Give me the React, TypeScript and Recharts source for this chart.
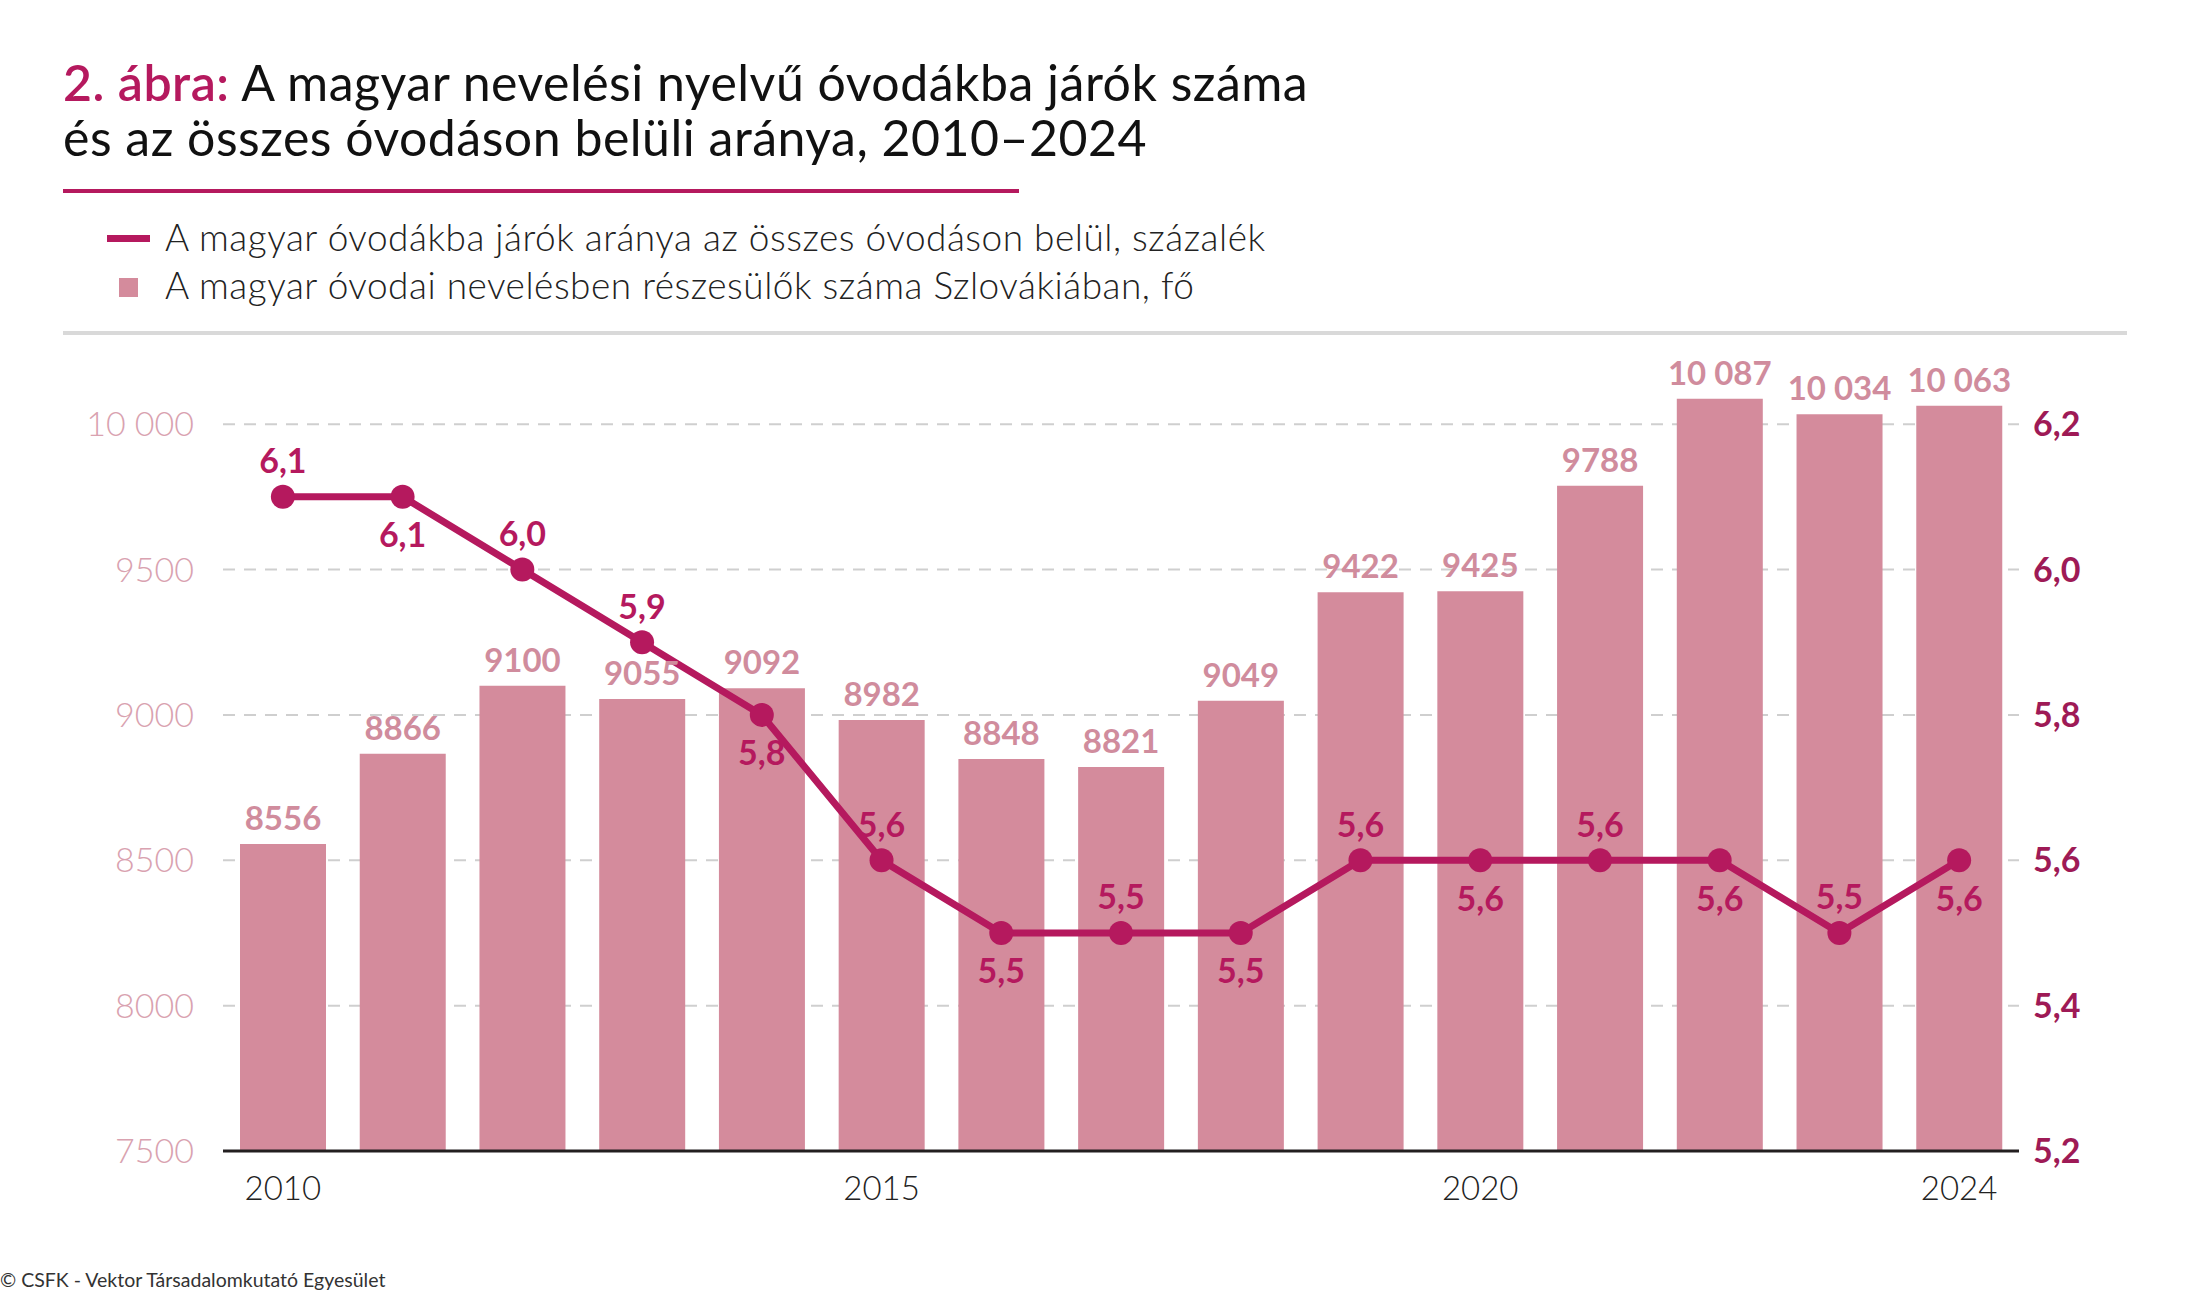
import {
  Bar,
  CartesianGrid,
  ComposedChart,
  LabelList,
  Line,
  XAxis,
  YAxis,
} from "recharts";

const YEARS = ["2010", "2011", "2012", "2013", "2014", "2015", "2016", "2017", "2018", "2019", "2020", "2021", "2022", "2023", "2024"];
const CHILDREN = [8556, 8866, 9100, 9055, 9092, 8982, 8848, 8821, 9049, 9422, 9425, 9788, 10087, 10034, 10063];
const SHARE = [6.1, 6.1, 6.0, 5.9, 5.8, 5.6, 5.5, 5.5, 5.5, 5.6, 5.6, 5.6, 5.6, 5.5, 5.6];
const X_TICKS = ["2010", "2015", "2020", "2024"];
const LEFT_TICKS = [7500, 8000, 8500, 9000, 9500, 10000];
const RIGHT_TICKS = [5.2, 5.4, 5.6, 5.8, 6.0, 6.2];
// points whose ratio label sits under the marker
const BELOW = new Set([1, 4, 6, 8, 10, 12, 14]);

const MAGENTA = "#b5195e";
const BAR_PINK = "#d48b9c";
const LABEL_PINK = "#d08c9d";
const FONT = "Lato, 'Noto Sans', sans-serif";

const fmtThousands = (v: number) =>
  v >= 10000 ? `${Math.floor(v / 1000)} ${String(v % 1000).padStart(3, "0")}` : String(v);
const fmtComma = (v: number) => v.toFixed(1).replace(".", ",");

const rows = YEARS.map((year, i) => ({ year, children: CHILDREN[i], share: SHARE[i] }));

function ShareLabel(props: any) {
  const { x, y, value, index } = props;
  const below = BELOW.has(index);
  return (
    <text
      x={x}
      y={below ? y + 37 : y - 37}
      textAnchor="middle"
      dominantBaseline="central"
      fill={MAGENTA}
      fontFamily={FONT}
      fontWeight={700}
      fontSize={34}
    >
      {fmtComma(value)}
    </text>
  );
}

const titleLine = { position: "absolute" as const, left: 63, fontSize: 50, lineHeight: "48px", color: "#111", letterSpacing: 0.5, whiteSpace: "nowrap" as const };
const legendText = { position: "absolute" as const, left: 165, fontSize: 37, fontWeight: 300, color: "#222", lineHeight: "44px", letterSpacing: 0.5, whiteSpace: "nowrap" as const };

export default function App() {
  return (
    <div style={{ position: "absolute", left: 0, top: 0, width: 2187, height: 1296, background: "#fff", fontFamily: FONT }}>
      <div style={{ ...titleLine, top: 58 }}>
        <span style={{ color: MAGENTA, fontWeight: 600 }}>2. ábra:</span> A magyar nevelési nyelvű óvodákba járók száma
      </div>
      <div style={{ ...titleLine, top: 113 }}>és az összes óvodáson belüli aránya, 2010–2024</div>
      <div style={{ position: "absolute", left: 63, top: 189, width: 956, height: 4, background: MAGENTA }} />

      <div style={{ position: "absolute", left: 107, top: 235, width: 43, height: 7, background: MAGENTA }} />
      <div style={{ ...legendText, top: 215 }}>
        A magyar óvodákba járók aránya az összes óvodáson belül, százalék
      </div>
      <div style={{ position: "absolute", left: 119, top: 278, width: 19, height: 19, background: BAR_PINK }} />
      <div style={{ ...legendText, top: 263 }}>
        A magyar óvodai nevelésben részesülők száma Szlovákiában, fő
      </div>
      <div style={{ position: "absolute", left: 63, top: 331, width: 2064, height: 4, background: "#d9d9d9" }} />

      <div style={{ position: "absolute", left: 0, top: 0 }}>
        <ComposedChart
          width={2187}
          height={1296}
          data={rows}
          margin={{ top: 366, right: 68, bottom: 85, left: 123 }}
        >
          <CartesianGrid
            yAxisId="left"
            vertical={false}
            syncWithTicks
            stroke="#cfcfcf"
            strokeWidth={2}
            strokeDasharray="12 9"
          />
          <XAxis
            dataKey="year"
            interval={0}
            height={60}
            tickLine={false}
            axisLine={{ stroke: "#231f20", strokeWidth: 3 }}
            tickMargin={20}
            tick={{ fill: "#222", fontSize: 33, fontWeight: 300, fontFamily: FONT }}
            tickFormatter={(v: string) => (X_TICKS.includes(v) ? v : "")}
          />
          <YAxis
            yAxisId="left"
            width={100}
            domain={[7500, 10200]}
            ticks={LEFT_TICKS}
            allowDataOverflow
            tickLine={false}
            axisLine={false}
            tickMargin={23}
            tick={{ fill: "#d9a2b0", fontSize: 34, fontWeight: 300, fontFamily: FONT }}
            tickFormatter={fmtThousands}
          />
          <YAxis
            yAxisId="right"
            orientation="right"
            width={100}
            domain={[5.2, 6.28]}
            ticks={RIGHT_TICKS}
            allowDataOverflow
            tickLine={false}
            axisLine={false}
            tickMargin={8}
            tick={{ fill: "#9e1a56", fontSize: 34, fontWeight: 700, fontFamily: FONT, textAnchor: "start" }}
            tickFormatter={fmtComma}
          />
          <Bar yAxisId="left" dataKey="children" fill={BAR_PINK} barSize={86} isAnimationActive={false}>
            <LabelList
              dataKey="children"
              position="top"
              offset={14}
              fill={LABEL_PINK}
              fontSize={33}
              fontWeight={700}
              fontFamily={FONT}
              formatter={(v: number) => fmtThousands(v)}
            />
          </Bar>
          <Line
            yAxisId="right"
            type="linear"
            dataKey="share"
            stroke={MAGENTA}
            strokeWidth={7}
            dot={{ r: 12, fill: MAGENTA, stroke: MAGENTA, strokeWidth: 0 }}
            isAnimationActive={false}
          >
            <LabelList dataKey="share" content={<ShareLabel />} />
          </Line>
        </ComposedChart>
      </div>

      <div style={{ position: "absolute", left: 0, top: 1268, fontSize: 19.5, color: "#333", lineHeight: "24px" }}>
        © CSFK - Vektor Társadalomkutató Egyesület
      </div>
    </div>
  );
}
